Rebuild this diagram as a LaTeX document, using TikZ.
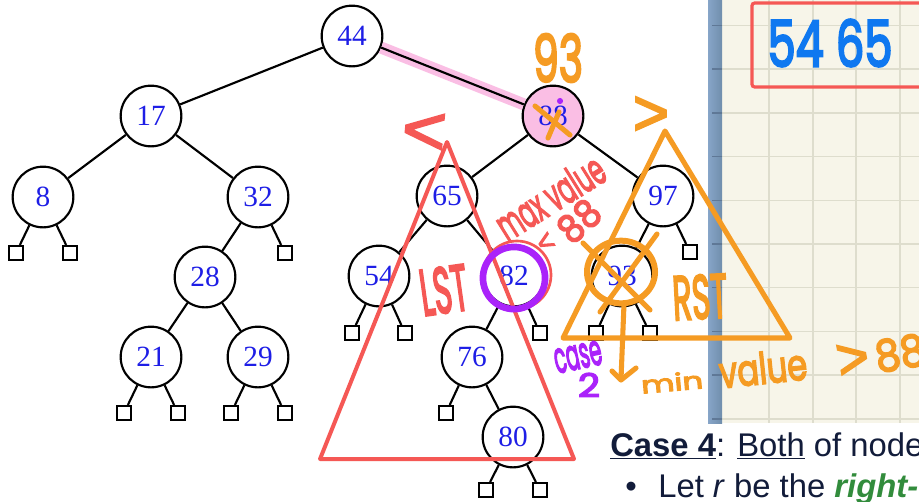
\documentclass[tikz,border=0pt]{standalone}
\usepackage{fontspec}
\usepackage{graphicx}
\setmainfont{Liberation Serif}
\newfontfamily\sansf{Liberation Sans}
\newfontfamily\hand{Poppins}[FakeBold=4]
\newfontfamily\handsym{Liberation Sans}[FakeBold=3]
\newdimen\pxu \pxu=0.75pt
\newcommand\hw[3]{\resizebox{#1\pxu}{#2\pxu}{\hand #3}}
\newcommand\hs[3]{\resizebox{#1\pxu}{#2\pxu}{\handsym #3}}
\definecolor{treeblue}{RGB}{30,30,230}
\definecolor{hlpink}{RGB}{250,190,228}
\definecolor{hred}{RGB}{245,88,85}
\definecolor{horange}{RGB}{245,155,35}
\definecolor{hpurple}{RGB}{170,35,250}
\definecolor{hblue}{RGB}{15,120,240}
\definecolor{cream}{RGB}{247,245,233}
\definecolor{gridc}{RGB}{222,221,205}
\definecolor{barL}{RGB}{135,165,200}
\definecolor{barR}{RGB}{112,142,172}
\definecolor{barT}{RGB}{95,120,150}
\definecolor{navy}{RGB}{18,28,58}
\definecolor{slgreen}{RGB}{50,140,60}
\begin{document}
\begin{tikzpicture}[x=0.75pt,y=-0.75pt,
  tn/.style={circle,draw=black,line width=1.6pt,fill=white,minimum size=45.5pt,inner sep=0pt,text=treeblue,font=\fontsize{22}{24}\selectfont},
  lf/.style={rectangle,draw=black,line width=1.5pt,fill=white,minimum size=10.5pt,inner sep=0pt},
  ed/.style={line width=1.6pt},
  hwn/.style={inner sep=0pt,outer sep=0pt},
  ostroke/.style={draw=horange,line width=3.8pt,line cap=round,line join=round},
  rstroke/.style={draw=hred,line width=3pt,line cap=round,line join=round},
  bodytext/.style={inner sep=0pt,anchor=base west,text=navy,font=\sansf\fontsize{24.6}{28}\selectfont}
]
\useasboundingbox (0,0) rectangle (919,501);
\clip (0,0) rectangle (919,501);
\fill[white] (0,0) rectangle (919,501);

% right panel
\fill[cream] (722,0) rectangle (919,423);
\foreach \gx in {769,813,856,900} \draw[gridc,line width=1.1pt] (\gx,0) -- (\gx,423);
\foreach \gy in {25.5,69.2,112.9,156.6,200.3,244,287.7,331.4,375.1,418.8} \draw[gridc,line width=1.1pt] (722,\gy) -- (919,\gy);
\shade[left color=barL,right color=barR] (708,0) rectangle (722,423);
\foreach \gy in {25.5,69.2,112.9,156.6,200.3,244,287.7,331.4,375.1,418.8} \draw[barT,line width=1.1pt] (712,\gy) -- (722,\gy);

% tree nodes
\node[tn] (n44) at (352,36) {44};
\node[tn] (n17) at (151,116) {17};
\node[tn,fill=hlpink] (n88) at (553,116) {88};
\node[tn] (n8) at (43,197) {8};
\node[tn] (n32) at (258,197) {32};
\node[tn] (n28) at (205,277) {28};
\node[tn] (n21) at (151,357) {21};
\node[tn] (n29) at (258,357) {29};
\node[tn] (n65) at (447,196) {65};
\node[tn] (n97) at (663,196) {97};
\node[tn] (n54) at (379,276) {54};
\node[tn] (n82) at (514,276) {82};
\node[tn] (n93) at (622,276) {93};
\node[tn] (n76) at (472,357) {76};
\node[tn] (n80) at (513,437) {80};

% leaves
\node[lf] (l8a) at (16,253) {};
\node[lf] (l8b) at (70,253) {};
\node[lf] (l32b) at (285,253) {};
\node[lf] (l21a) at (124,413) {};
\node[lf] (l21b) at (178,413) {};
\node[lf] (l29a) at (231,413) {};
\node[lf] (l29b) at (285,413) {};
\node[lf] (l54a) at (352,333) {};
\node[lf] (l54b) at (405,333) {};
\node[lf] (l82b) at (540,333) {};
\node[lf] (l76a) at (446,413) {};
\node[lf] (l80a) at (486,490) {};
\node[lf] (l80b) at (540,490) {};
\node[lf] (l97b) at (690,252) {};
\node[lf] (l93a) at (596,333) {};
\node[lf] (l93b) at (650,333) {};

% highlight edge
\draw[hlpink,line width=9pt] (n44) -- (n88);

% edges
\draw[ed] (n44) -- (n17);
\draw[ed] (n44) -- (n88);
\draw[ed] (n17) -- (n8);
\draw[ed] (n17) -- (n32);
\draw[ed] (n8) -- (l8a);
\draw[ed] (n8) -- (l8b);
\draw[ed] (n32) -- (n28);
\draw[ed] (n32) -- (l32b);
\draw[ed] (n28) -- (n21);
\draw[ed] (n28) -- (n29);
\draw[ed] (n21) -- (l21a);
\draw[ed] (n21) -- (l21b);
\draw[ed] (n29) -- (l29a);
\draw[ed] (n29) -- (l29b);
\draw[ed] (n88) -- (n65);
\draw[ed] (n88) -- (n97);
\draw[ed] (n65) -- (n54);
\draw[ed] (n65) -- (n82);
\draw[ed] (n54) -- (l54a);
\draw[ed] (n54) -- (l54b);
\draw[ed] (n82) -- (n76);
\draw[ed] (n82) -- (l82b);
\draw[ed] (n76) -- (l76a);
\draw[ed] (n76) -- (n80);
\draw[ed] (n80) -- (l80a);
\draw[ed] (n80) -- (l80b);
\draw[ed] (n97) -- (n93);
\draw[ed] (n97) -- (l97b);
\draw[ed] (n93) -- (l93a);
\draw[ed] (n93) -- (l93b);

% red LST triangle and circle around 82
\draw[rstroke] (447,142) -- (320,459) -- (574,459) -- cycle;
\draw[hred,line width=2pt] (517,275) circle[radius=25.5pt];
\draw[hpurple,line width=5pt] (514,278) circle[radius=23.3pt];

% orange RST triangle and crossing of 93
\draw[ostroke] (665,131) -- (563,338) -- (790,338) -- cycle;
\draw[ostroke,line width=4.5pt] (621,272) ellipse[x radius=25.5pt,y radius=23.5pt];
\draw[ostroke] (583,243) -- (650,310);
\draw[ostroke] (657,234) -- (600,312);
\draw[ostroke] (624,304) -- (621,379);
\draw[ostroke] (612,371) -- (621,380) -- (636,368);

% orange cross on 88
\draw[ostroke] (535,106) -- (570,135);
\draw[ostroke] (559,112) -- (548,138);
\fill[hpurple] (560,101) circle[radius=2.3pt];

% handwritten texts
\node[hwn,text=horange] (t93) at (558,58) {\hw{50}{48}{93}};
\node[hwn,text=hred,rotate=-5] (tlt) at (424,133) {\hs{44}{40}{<}};
\node[hwn,text=horange] (tgt) at (651,116) {\hs{36}{38}{>}};
\node[hwn,text=hred,rotate=32] (tmax) at (550,197) {\hw{120}{32}{max value}};
\node[hwn,text=hred,rotate=30] (tlt88) at (546,243) {\hs{16}{18}{<}};
\node[hwn,text=hred,rotate=42] (t88r) at (579,221) {\hw{44}{28}{88}};
\node[hwn,text=hred,rotate=8] (tlst) at (444,290) {\hw{48}{46}{LST}};
\node[hwn,text=horange,rotate=3] (trst) at (700,297) {\hw{55}{44}{RST}};
\node[hwn,text=hpurple,rotate=12] (tcase) at (578,357) {\hw{48}{24}{case}};
\node[hwn,text=hpurple] (t2) at (589,385) {\hw{22}{24}{2}};
\node[hwn,text=horange,rotate=5] (tmin) at (672,382) {\hw{62}{18}{min}};
\node[hwn,text=horange,rotate=6] (tvalue) at (763,368) {\hw{88}{32}{value}};
\node[hwn,text=horange,rotate=10] (tgt2) at (853,360) {\hs{32}{34}{>}};
\node[hwn,text=horange,rotate=10] (t88o) at (900,353) {\hw{50}{32}{88}};

% top right box
\draw[hred,line width=2.4pt,rounded corners=2pt] (752,3) rectangle (930,87);
\node[hwn,text=hblue] (t5465) at (830,43) {\hw{125}{47}{54 65}};

% slide text
\node[bodytext] (case) at (610,456) {\underline{\textbf{Case 4}}: \underline{Both} of node};
\node[bodytext,anchor=base] (bul) at (631,497) {\textbullet};
\node[bodytext] (line2) at (658,497) {Let \textit{r} be the \textcolor{slgreen}{\textbf{\textit{right-}}}};
\end{tikzpicture}
\end{document}
